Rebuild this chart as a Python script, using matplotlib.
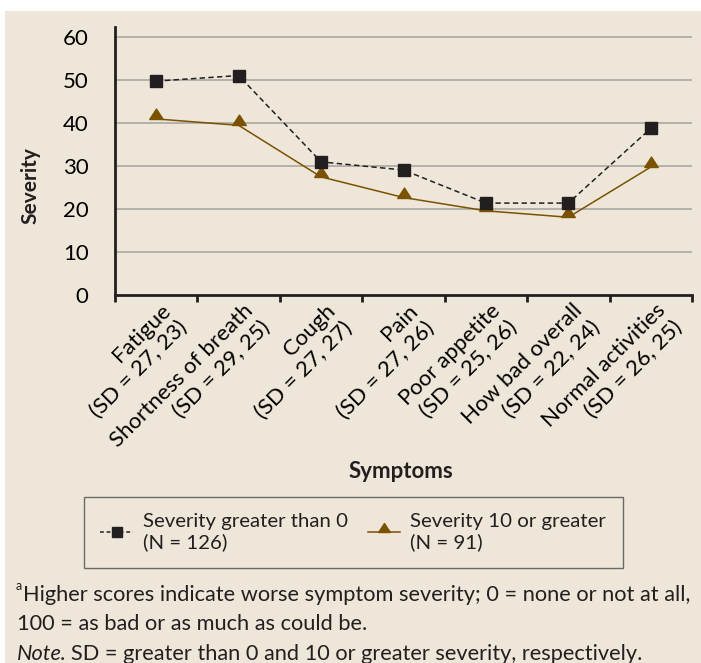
import numpy as np
import matplotlib
matplotlib.use("Agg")
from matplotlib import pyplot as plt
from matplotlib.lines import Line2D
from matplotlib.patches import Rectangle
from matplotlib.path import Path
import matplotlib.transforms as mtransforms

# data
symptoms = ["Fatigue", "Shortness of breath", "Cough", "Pain",
            "Poor appetite", "How bad overall", "Normal activities"]
sd_labels = ["(SD = 27, 23)", "(SD = 29, 25)", "(SD = 27, 27)", "(SD = 27, 26)",
             "(SD = 25, 26)", "(SD = 22, 24)", "(SD = 26, 25)"]
sev_gt0 = [49.8, 51.1, 31.0, 29.1, 21.4, 21.4, 38.8]
sev_10 = [41.0, 39.5, 27.5, 22.7, 19.6, 18.1, 29.8]
yticks = [0, 10, 20, 30, 40, 50, 60]

BG = "#eee6d8"
BROWN = "#7a5200"
DARK = "#231f20"

plt.rcParams['font.family'] = ['Lato', 'DejaVu Sans']
plt.rcParams['text.color'] = '#231f20'

W, H = 701, 663
fig = plt.figure(figsize=(W / 100, H / 100), dpi=100)
fig.patch.set_facecolor("white")
fig.patches.append(Rectangle((5 / W, 0), 1, 1 - 11 / H, transform=fig.transFigure,
                             facecolor=BG, edgecolor="none", zorder=-10))

ax = fig.add_axes([115 / W, 1 - 295 / H, (692 - 115) / W, (295 - 27) / H])
ax.set_facecolor("none")

# triangle whose base sits on the data point
tri = Path([(-0.65, 0), (0.65, 0), (0, 1), (-0.65, 0)],
           [Path.MOVETO, Path.LINETO, Path.LINETO, Path.CLOSEPOLY])

x = np.arange(len(symptoms))
ax.plot(x, sev_gt0, color=DARK, lw=1.1, ls=(0, (3.5, 2.2)), marker="s", ms=9,
        mfc=DARK, mec=DARK, zorder=4)
ax.plot(x, sev_10, color=BROWN, lw=1.1, marker=tri, ms=15,
        mfc=BROWN, mec=BROWN, zorder=3)

ax.set_xlim(-0.5, len(symptoms) - 0.5)
ax.set_ylim(0, 62.4)
ax.set_yticks(yticks)
ax.set_yticklabels([str(v) for v in yticks], fontsize=16)
ax.tick_params(axis="y", length=0, pad=19)
for v in yticks[1:]:
    ax.axhline(v, color="#aaa7a2", lw=1.2, zorder=1)

ax.set_xticks(x)
ax.set_xticklabels([f"{s}\n{d}" for s, d in zip(symptoms, sd_labels)],
                   rotation=45, ha="right", va="top", rotation_mode="anchor",
                   fontsize=16, linespacing=1.25)
ax.tick_params(axis="x", length=0, pad=4)
offset = mtransforms.ScaledTranslation(4 / 100, 0, fig.dpi_scale_trans)
for lab in ax.get_xticklabels():
    lab.set_transform(lab.get_transform() + offset)
ax.set_xticks(np.arange(-0.5, len(symptoms)), minor=True)
ax.tick_params(axis="x", which="minor", length=5, width=2, color=DARK, direction="out")

for side in ["top", "right"]:
    ax.spines[side].set_visible(False)
for side in ["left", "bottom"]:
    ax.spines[side].set_linewidth(2)
    ax.spines[side].set_color(DARK)

fig.text(30 / W, 1 - 186 / H, "Severity", rotation=90, ha="center", va="center",
         fontsize=15, fontweight="bold")
fig.text(401 / W, 1 - 471 / H, "Symptoms", ha="center", va="center",
         fontsize=16, fontweight="bold")

# legend
h1 = Line2D([], [], color=DARK, lw=1.1, ls=(0, (2.5, 1.8)), marker="s", ms=7,
            mfc=DARK, mec=DARK)
h2 = Line2D([], [], color=BROWN, lw=1.1, marker=tri, ms=13, mfc=BROWN, mec=BROWN)
leg = fig.legend([h1, h2], ["Severity greater than 0\n(N = 126)",
                            "Severity 10 or greater\n(N = 91)"],
                 loc="upper left", bbox_to_anchor=(84 / W, 1 - 497 / H),
                 ncol=2, fontsize=14.7, frameon=True, fancybox=False,
                 handlelength=1.6, handletextpad=0.5, columnspacing=0.95,
                 borderpad=0.8, borderaxespad=0)
leg.get_frame().set_edgecolor("#4a4a4a")
leg.get_frame().set_linewidth(1.0)
leg.get_frame().set_facecolor(BG)
for t in leg.get_texts():
    t.set_linespacing(1.2)

# footnotes
FS = 15.7
fig.text(16 / W, 1 - 590 / H, "a", fontsize=9, va="baseline")
fig.text(23 / W, 1 - 601 / H,
         "Higher scores indicate worse symptom severity; 0 = none or not at all,",
         fontsize=FS, va="baseline")
fig.text(17 / W, 1 - 630 / H, "100 = as bad or as much as could be.",
         fontsize=FS, va="baseline")
t_note = fig.text(17 / W, 1 - 660 / H, "Note", fontsize=FS, va="baseline",
                  style="italic")
ax.annotate(". SD = greater than 0 and 10 or greater severity, respectively.",
            xy=(1, 0), xycoords=t_note, xytext=(-1.5, 0), textcoords="offset points",
            fontsize=FS, va="bottom", annotation_clip=False)

fig.savefig("out.png", dpi=100, facecolor=fig.get_facecolor())
